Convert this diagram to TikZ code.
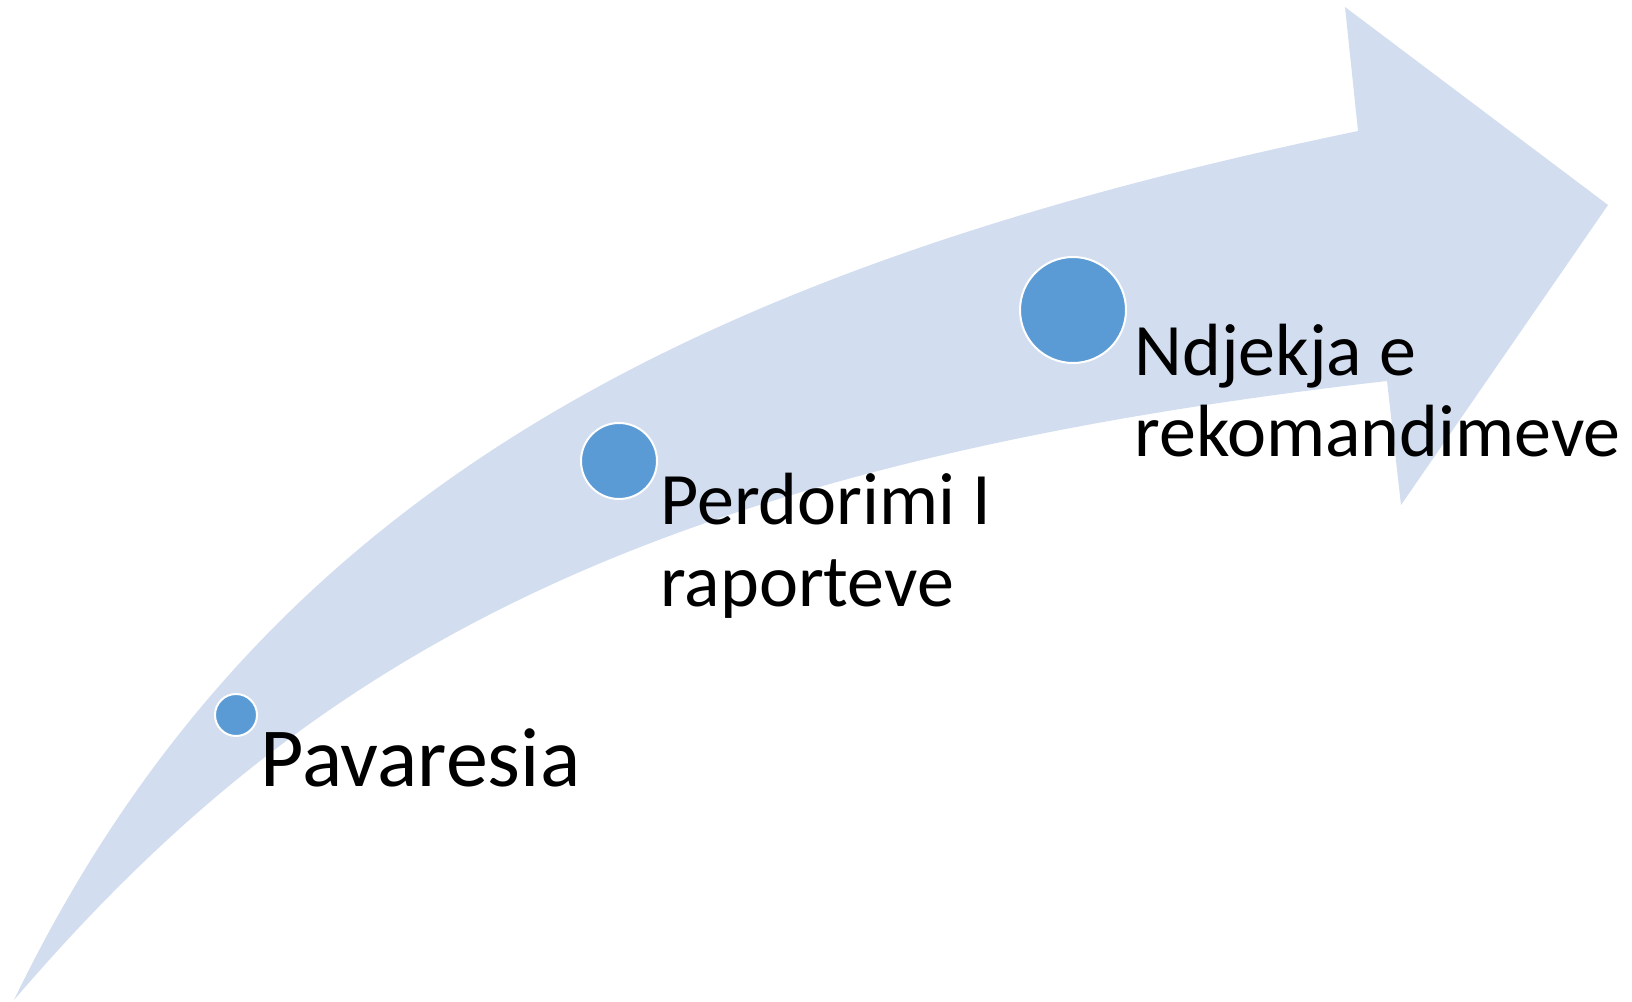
\documentclass[tikz,border=0pt]{standalone}
\usepackage{fontspec}
\setmainfont{Carlito}
\usepackage{tikz}
\definecolor{band}{RGB}{210,222,239}
\definecolor{dotblue}{RGB}{91,155,213}

\begin{document}
\begin{tikzpicture}[x=0.5pt,y=-0.5pt]
      \useasboundingbox (0,0) rectangle (1632,1001);

      % curved arrow
      \fill[band] (14,1000) .. controls (253,505) and (673,273) .. (1358,131)
        -- (1345,7) -- (1608,205) -- (1401,505) -- (1387,381)
        .. controls (642,466) and (307,658) .. (14,1000) -- cycle;

      \node[circle,fill=dotblue,draw=white,line width=1pt,minimum size=21pt,inner sep=0pt] (a) at (236,715){};
      \node[circle,fill=dotblue,draw=white,line width=1pt,minimum size=38pt,inner sep=0pt] (b) at (619,461){};
      \node[circle,fill=dotblue,draw=white,line width=1pt,minimum size=53pt,inner sep=0pt] (c) at (1073,310){};

      \node[anchor=base west,inner sep=0pt,font=\fontsize{42pt}{44pt}\selectfont] (p) at (260,786){Pavaresia};
      \fontsize{37pt}{40pt}\selectfont
      \node[anchor=base west,inner sep=0pt] (q) at (660,524){Perdorimi I};
      \node[anchor=base west,inner sep=0pt] (r) at (660,606){raporteve};
      \node[anchor=base west,inner sep=0pt] (s) at (1134,375){Ndjekja e};
      \node[anchor=base west,inner sep=0pt] (t) at (1134,456){rekomandimeve};
\end{tikzpicture}
\end{document}
